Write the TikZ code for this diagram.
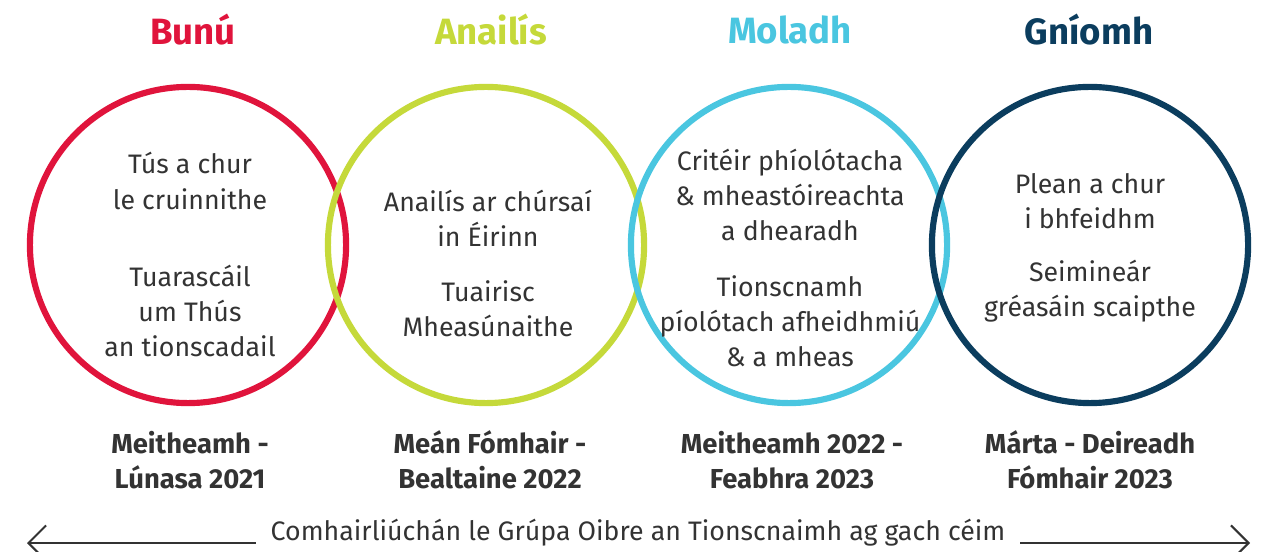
\documentclass[tikz,border=0pt]{standalone}
\usepackage{fontspec}
\setmainfont{Fira Sans}
\usetikzlibrary{arrows.meta}
\usetikzlibrary{positioning}
\definecolor{myred}{HTML}{E0143C}
\definecolor{mygreen}{HTML}{C5D93A}
\definecolor{myblue}{HTML}{4AC6E0}
\definecolor{mynavy}{HTML}{0B3D5E}
\definecolor{mygray}{HTML}{333333}
\tikzset{
  phase/.style={circle,line width=1.75pt,minimum size=3.16cm,inner sep=0pt},
  title/.style={font=\bfseries\fontsize{10.4}{13}\selectfont,inner sep=0pt},
  body/.style={font=\fontsize{7.6}{10}\selectfont,text=mygray,align=center,inner sep=0pt},
  datum/.style={font=\bfseries\fontsize{7.8}{10}\selectfont,text=mygray,align=center,inner sep=0pt},
}

\begin{document}
\begin{tikzpicture}[x=0.01cm,y=-0.01cm]
  \useasboundingbox (0,0) rectangle (1261,552);

  % CIRCLES
  \node[phase,draw=myred]   (C1) at (188,245)  {};
  \node[phase,draw=mygreen] (C2) at (486,245)  {};
  \node[phase,draw=myblue]  (C3) at (789,245)  {};
  \node[phase,draw=mynavy]  (C4) at (1090,245) {};

  % TITLES
  \node[title,myred]   (T1) at (193,30)  {Bunú};
  \node[title,mygreen] (T2) at (491,30)  {Anailís};
  \node[title,myblue]  (T3) at (790,30)  {Moladh};
  \node[title,mynavy]  (T4) at (1089,30) {Gníomh};

  % TEXTS
  \node[body] (A1) at (190,181) {Tús a chur\\le cruinnithe};
  \node[body] (B1) at (190,311) {Tuarascáil\\um Thús\\an tionscadail};
  \node[body] (A2) at (488,218) {Anailís ar chúrsaí\\in Éirinn};
  \node[body] (B2) at (488,309) {Tuairisc\\Mheasúnaithe};
  \node[body] (A3) at (790,195) {Critéir phíolótacha\\\& mheastóireachta\\a dhearadh};
  \node[body] (B3) at (790,321) {Tionscnamh\\píolótach afheidhmiú\\\& a mheas};
  \node[body] (A4) at (1090,201) {Plean a chur\\i bhfeidhm};
  \node[body] (B4) at (1090,291) {Seimineár\\gréasáin scaipthe};

  % DATES
  \node[datum] (D1) at (190,460)  {Meitheamh -\\Lúnasa 2021};
  \node[datum] (D2) at (490,460)  {Meán Fómhair -\\Bealtaine 2022};
  \node[datum] (D3) at (792,460)  {Meitheamh 2022 -\\Feabhra 2023};
  \node[datum] (D4) at (1090,460) {Márta - Deireadh\\Fómhair 2023};

  % ARROW
  \node[body] (W) at (638,533) {Comhairliúchán le Grúpa Oibre an Tionscnaimh ag gach céim};
  \coordinate (L) at (27,543);
  \coordinate (R) at (1250,543);
  \draw[mygray,line width=0.6pt,-{Straight Barb[length=5pt,width=10pt]}] ([xshift=-4pt]W.west |- L) -- (L);
  \draw[mygray,line width=0.6pt,-{Straight Barb[length=5pt,width=10pt]}] ([xshift=4pt]W.east |- R) -- (R);
\end{tikzpicture}
\end{document}
